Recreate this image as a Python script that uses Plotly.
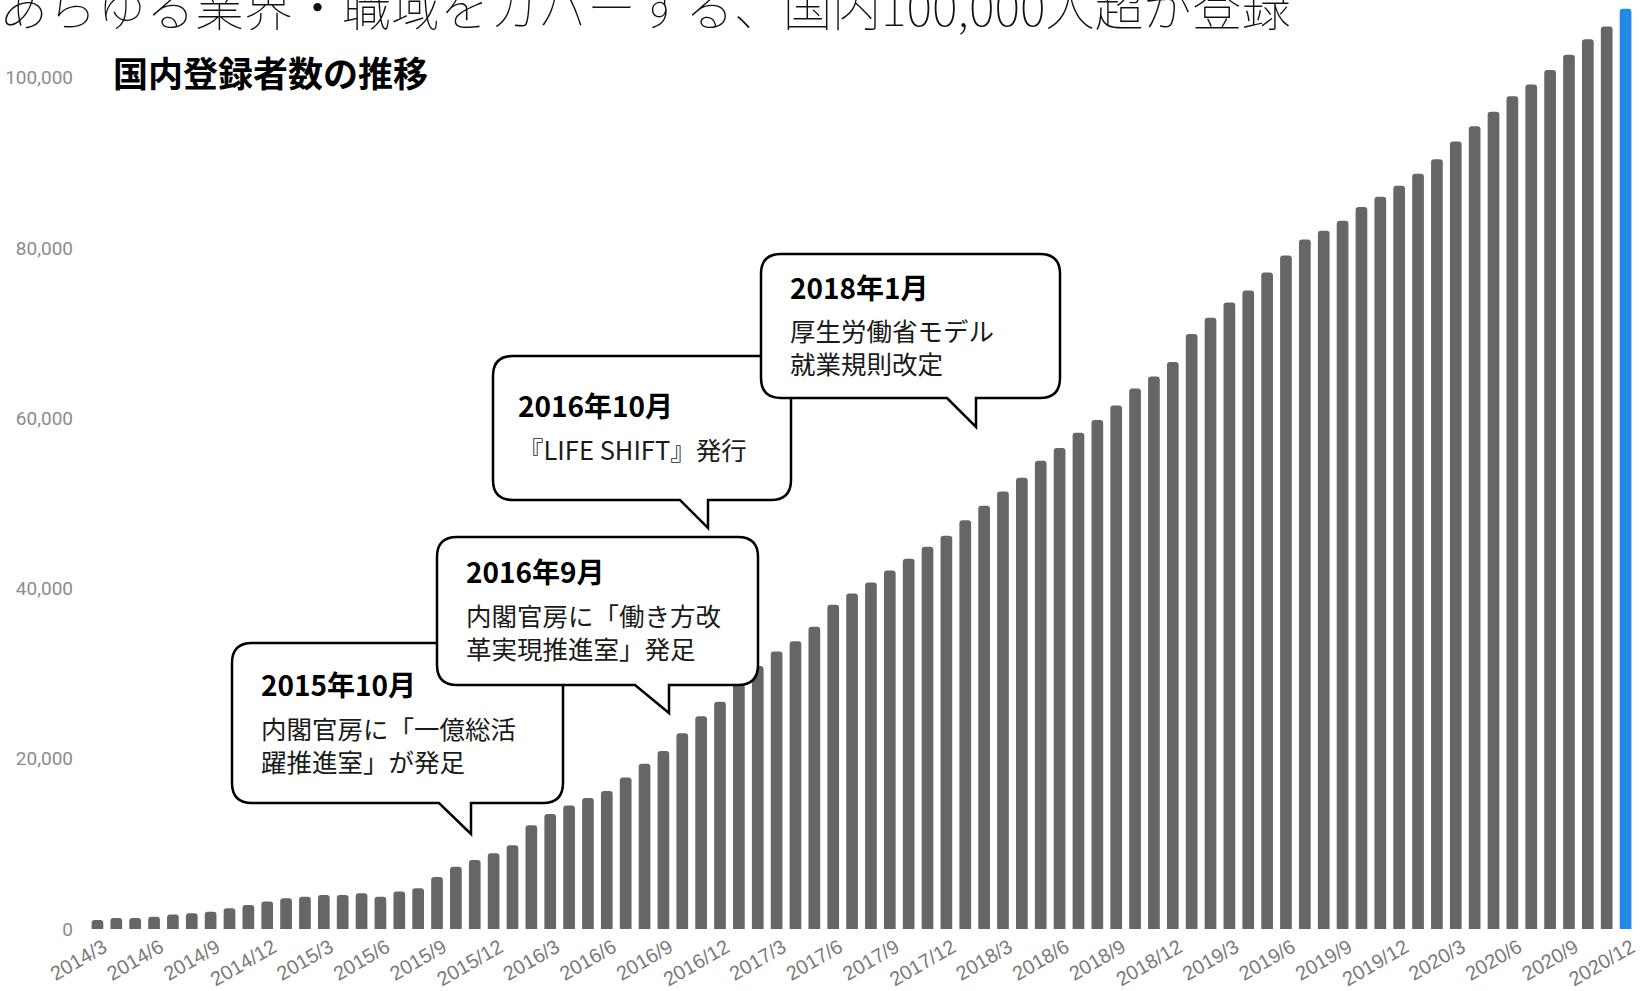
import plotly.graph_objects as go

# Monthly categories, March 2014 through December 2020
months = [f"{y}/{m}" for y in range(2014, 2021) for m in range(1, 13)][2:]

# Cumulative number of registered users in Japan (people)
registrants = [
    1060, 1290, 1290, 1450, 1690, 1840, 2040, 2430, 2820, 3220,
    3610, 3800, 4000, 4000, 4200, 3800, 4390, 4780, 6100, 7300,
    8100, 8900, 9850, 12200, 13500, 14500, 15400, 16200, 17800, 19400,
    20900, 23000, 25000, 26700, 28900, 30900, 32600, 33800, 35500, 38100,
    39400, 40700, 42100, 43500, 44900, 46200, 48000, 49700, 51400, 53000,
    55000, 56500, 58300, 59800, 61500, 63500, 64900, 66600, 69900, 71800,
    73600, 75000, 77100, 79100, 81000, 82000, 83200, 84800, 86000, 87300,
    88700, 90400, 92500, 94300, 96000, 97800, 99200, 100900, 102700, 104500,
    106000, 108100,
]

x_tick_labels = [
    "2014/3", "2014/6", "2014/9", "2014/12", "2015/3", "2015/6", "2015/9",
    "2015/12", "2016/3", "2016/6", "2016/9", "2016/12", "2017/3", "2017/6",
    "2017/9", "2017/12", "2018/3", "2018/6", "2018/9", "2018/12", "2019/3",
    "2019/6", "2019/9", "2019/12", "2020/3", "2020/6", "2020/9", "2020/12",
]
y_tick_values = [0, 20000, 40000, 60000, 80000, 100000]
y_tick_labels = ["0", "20,000", "40,000", "60,000", "80,000", "100,000"]

latest_month = "2020/12"
BAR_GRAY = "#666666"
BAR_BLUE = "#2389E9"

title_text = "あらゆる業界・職域をカバーする、国内100,000人超が登録"
subtitle_text = "国内登録者数の推移"

# Event callouts: box (left, top, right, bottom), tail (base-left x, base-right x, tip y)
callouts = [
    dict(box=(232, 643, 563, 803), tail=(439, 471, 834), text_x=259,
         date="2015年10月", date_y=684,
         body=["内閣官房に「一億総活", "躍推進室」が発足"], body_y=744),
    dict(box=(437, 537, 758, 685), tail=(635, 669, 713), text_x=464,
         date="2016年9月", date_y=571,
         body=["内閣官房に「働き方改", "革実現推進室」発足"], body_y=631),
    dict(box=(493, 356, 791, 500), tail=(680, 708, 528), text_x=516,
         date="2016年10月", date_y=405,
         body=["『LIFE SHIFT』発行"], body_y=448),
    dict(box=(761, 254, 1060, 398), tail=(947, 976, 427), text_x=788,
         date="2018年1月", date_y=287,
         body=["厚生労働省モデル", "就業規則改定"], body_y=346),
]

W, H = 1640, 991
MARGIN = dict(l=88, r=5, t=1, b=62)
PW = W - MARGIN["l"] - MARGIN["r"]
PH = H - MARGIN["t"] - MARGIN["b"]


def px(x):
    return (x - MARGIN["l"]) / PW


def py(y):
    return 1 - (y - MARGIN["t"]) / PH


def bubble_path(box, tail, r=20):
    x0, y0, x1, y1 = box
    tl, tr, tip = tail
    parts = [
        f"M {px(x0 + r)},{py(y0)}",
        f"L {px(x1 - r)},{py(y0)}",
        f"Q {px(x1)},{py(y0)} {px(x1)},{py(y0 + r)}",
        f"L {px(x1)},{py(y1 - r)}",
        f"Q {px(x1)},{py(y1)} {px(x1 - r)},{py(y1)}",
        f"L {px(tr)},{py(y1)}",
        f"L {px(tr)},{py(tip)}",
        f"L {px(tl)},{py(y1)}",
        f"L {px(x0 + r)},{py(y1)}",
        f"Q {px(x0)},{py(y1)} {px(x0)},{py(y1 - r)}",
        f"L {px(x0)},{py(y0 + r)}",
        f"Q {px(x0)},{py(y0)} {px(x0 + r)},{py(y0)}",
        "Z",
    ]
    return " ".join(parts)


JP_FONT = "Noto Sans CJK JP"

bar_colors = [BAR_BLUE if m == latest_month else BAR_GRAY for m in months]

fig = go.Figure(
    go.Bar(
        x=months,
        y=registrants,
        marker=dict(color=bar_colors, line=dict(width=0)),
        hoverinfo="x+y",
    )
)

shapes = []
annotations = []
for c in callouts:
    shapes.append(dict(
        type="path", xref="paper", yref="paper", layer="above",
        path=bubble_path(c["box"], c["tail"]),
        fillcolor="white", line=dict(color="black", width=2.5),
    ))
    annotations.append(dict(
        xref="paper", yref="paper", x=px(c["text_x"]), y=py(c["date_y"]),
        xanchor="left", yanchor="middle", showarrow=False, text=c["date"],
        font=dict(family=JP_FONT, size=28, color="black", weight="bold"),
    ))
    annotations.append(dict(
        xref="paper", yref="paper", x=px(c["text_x"]), y=py(c["body_y"]),
        xanchor="left", yanchor="middle", align="left", showarrow=False,
        text="<br>".join(c["body"]),
        font=dict(family=JP_FONT, size=25.5, color="#1a1a1a"),
    ))

# Page heading (runs off the top edge) and chart subtitle
annotations.append(dict(
    xref="paper", yref="paper", x=px(-3), y=py(5),
    xanchor="left", yanchor="middle", showarrow=False, text=title_text,
    font=dict(family=JP_FONT, size=49, color="#111111", weight=100),
))
annotations.append(dict(
    xref="paper", yref="paper", x=px(111), y=py(72),
    xanchor="left", yanchor="middle", showarrow=False, text=subtitle_text,
    font=dict(family=JP_FONT, size=35, color="black", weight="bold"),
))

fig.update_layout(
    width=W, height=H,
    margin=MARGIN,
    paper_bgcolor="white", plot_bgcolor="white",
    bargap=0.38,
    barcornerradius=3,
    showlegend=False,
    shapes=shapes,
    annotations=annotations,
    xaxis=dict(
        type="category",
        range=[-0.5, len(months) - 0.5],
        tickmode="array", tickvals=x_tick_labels, ticktext=x_tick_labels,
        tickangle=-30,
        tickfont=dict(family="Liberation Sans", size=20, color="#7a7a7a"),
        showgrid=False, showline=False, zeroline=False, ticks="",
        ticklabelshift=6, ticklabelstandoff=2,
        automargin=False,
    ),
    yaxis=dict(
        range=[0, 109000],
        tickmode="array", tickvals=y_tick_values, ticktext=y_tick_labels,
        tickfont=dict(family="Roboto", size=19, color="#8c8c8c"),
        showgrid=False, showline=False, zeroline=False, ticks="",
        ticklabelstandoff=14,
        automargin=False,
    ),
)

fig.write_html("out.html")
